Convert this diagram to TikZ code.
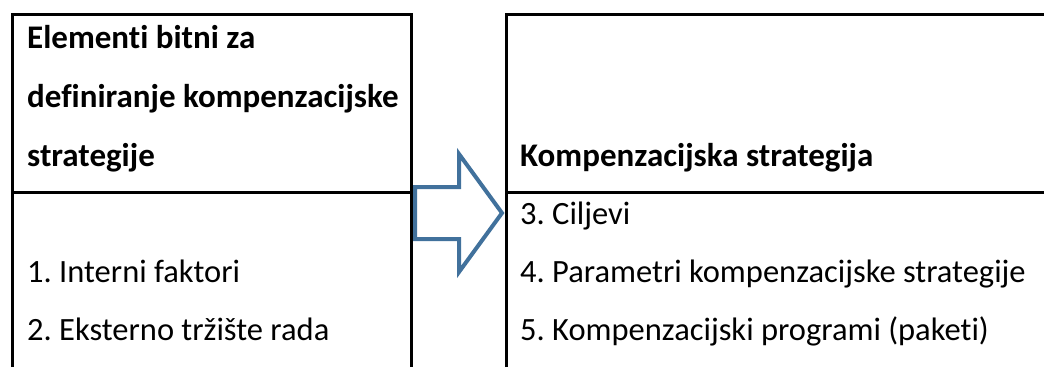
\documentclass[tikz,border=0pt]{standalone}
\usepackage{fontspec}
\setmainfont{Carlito}[Ligatures={NoCommon}]
\usepackage{tikz}
\definecolor{arrowblue}{HTML}{41719C}
\frenchspacing
\tikzset{
	frame/.style={line width=3pt, color=black},
	head/.style={anchor=base west, inner sep=0pt, font=\fontsize{33}{40}\selectfont\bfseries},
	item/.style={anchor=base west, inner sep=0pt, font=\fontsize{32.5}{40}\selectfont},
	bigarrow/.style={line width=4pt, color=arrowblue, line join=miter}
}

\begin{document}
\begin{tikzpicture}[x=1pt, y=-1pt]
			%%%%% START %%%%%
			\useasboundingbox (0, 0) rectangle (1044, 367);
			
			% left table
			\draw[frame] (12, 367) -- (12, 14.5) -- (411, 14.5) -- (411, 367);
			\draw[frame] (12, 192) -- (411, 192);
			
			% right table
			\draw[frame] (506, 367) -- (506, 14.5) -- (1046, 14.5);
			\draw[frame] (506, 192) -- (1046, 192);
			
			% block arrow
			\draw[bigarrow] (415, 187) -- (459, 187) -- (459, 154) -- (502, 213)
				-- (459, 272) -- (459, 239) -- (415, 239) -- cycle;
			
			\node[head] (elem1) at (27, 48) {Elementi bitni za};
			\node[head] (elem2) at (27, 107) {definiranje kompenzacijske};
			\node[head] (elem3) at (27, 166) {strategije};
			
			\node[item] (interni) at (27, 282) {1. Interni faktori};
			\node[item] (eksterno) at (27, 340) {2. Eksterno tržište rada};
			
			\node[head] (strat) at (520, 166) {Kompenzacijska strategija};
			
			\node[item] (ciljevi) at (520, 224) {3. Ciljevi};
			\node[item] (param) at (520, 282) {4. Parametri kompenzacijske strategije};
			\node[item] (progr) at (520, 340) {5. Kompenzacijski programi (paketi)};
			
			%%%%% END %%%%%
\end{tikzpicture}
\end{document}
